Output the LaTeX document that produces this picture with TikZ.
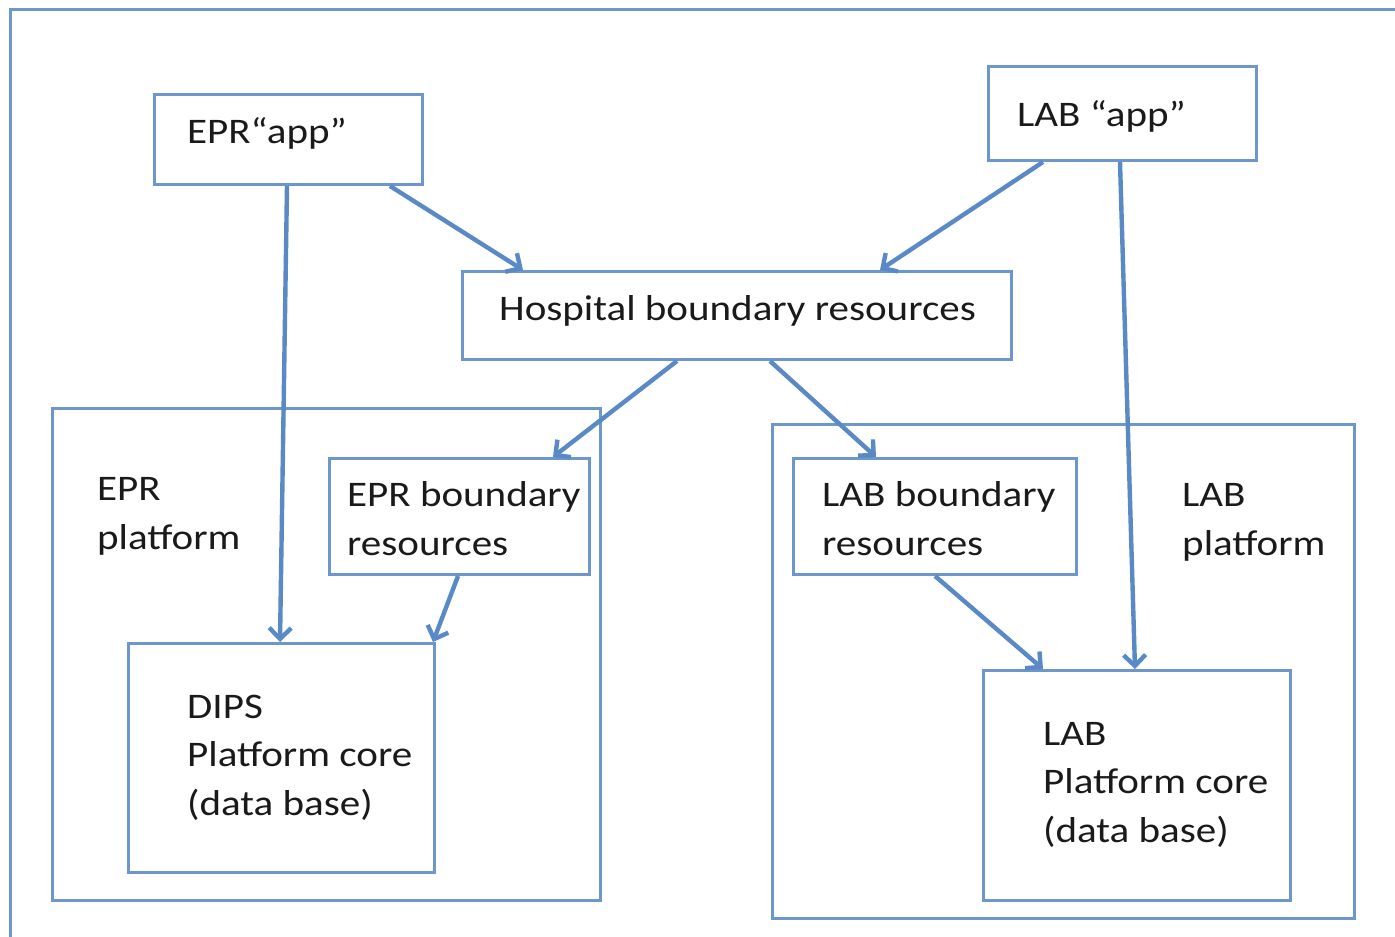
\documentclass[tikz,border=0pt]{standalone}
\usepackage{fontspec}
\setmainfont{Carlito}[FakeStretch=1.14]
\usetikzlibrary{arrows.meta,calc}
\definecolor{boxblue}{HTML}{6D96CC}
\definecolor{arrowblue}{HTML}{5A8AC6}
\definecolor{txt}{HTML}{1A1A1A}
\begin{document}
\begin{tikzpicture}[x=1pt,y=-1pt,
  box/.style={draw=boxblue,line width=3pt,fill=none,inner sep=0pt},
  lbl/.style={anchor=base west,inner sep=0pt,align=left,text=txt,
    font=\fontsize{36}{48.5}\selectfont},
  conn/.style={draw=arrowblue,line width=4.4pt,
    -{Straight Barb[length=11pt,width=22pt,line width=4.4pt]}}]
\useasboundingbox (0,0) rectangle (1395,937);
\fill[white] (0,0) rectangle (1395,937);
% outer frame
\draw[draw=boxblue,line width=3pt] (10,9) rectangle (1430,970);
% boxes
\node[box,minimum width=268pt,minimum height=90pt,anchor=north west] (eprapp) at (153,93) {};
\node[box,minimum width=268pt,minimum height=94pt,anchor=north west] (labapp) at (987,65) {};
\node[box,minimum width=549pt,minimum height=88pt,anchor=north west] (hosp) at (461,270) {};
\node[box,minimum width=548pt,minimum height=492pt,anchor=north west] (eprplat) at (51,407) {};
\node[box,minimum width=260pt,minimum height=116pt,anchor=north west] (eprbnd) at (328,457) {};
\node[box,minimum width=306pt,minimum height=229pt,anchor=north west] (dips) at (127,642) {};
\node[box,minimum width=582pt,minimum height=494pt,anchor=north west] (labplat) at (771,423) {};
\node[box,minimum width=283pt,minimum height=116pt,anchor=north west] (labbnd) at (792,457) {};
\node[box,minimum width=307pt,minimum height=230pt,anchor=north west] (labcore) at (982,669) {};
% texts (base anchor = baseline of the last line)
\node[lbl] (teprapp) at (187,143) {EPR“app”};
\node[lbl] (tlabapp) at (1017,126) {LAB “app”};
\node[lbl] (thosp) at (499,320) {Hospital boundary resources};
\node[lbl] (teprplat) at (97,549) {EPR\\platform};
\node[lbl] (teprbnd) at (347,555) {EPR boundary\\resources};
\node[lbl] (tdips) at (187,815) {DIPS\\Platform core\\(data base)};
\node[lbl] (tlabplat) at (1182,555) {LAB\\platform};
\node[lbl] (tlabbnd) at (822,555) {LAB boundary\\resources};
\node[lbl] (tlabcore) at (1043,842) {LAB\\Platform core\\(data base)};
% connectors
\draw[conn] ([xshift=134pt]eprapp.south west) -- ([xshift=153pt]dips.north west);
\draw[conn] ([xshift=237pt]eprapp.south west) -- ([xshift=62pt]hosp.north west);
\draw[conn] ([xshift=56pt]labapp.south west) -- ([xshift=419pt]hosp.north west);
\draw[conn] ([xshift=133pt]labapp.south west) -- ([xshift=153pt]labcore.north west);
\draw[conn] ([xshift=216pt]hosp.south west) -- ([xshift=225pt]eprbnd.north west);
\draw[conn] ([xshift=309pt]hosp.south west) -- ([xshift=84pt]labbnd.north west);
\draw[conn] ([xshift=130pt]eprbnd.south west) -- ([xshift=306pt]dips.north west);
\draw[conn] ([xshift=143pt]labbnd.south west) -- ([xshift=61pt]labcore.north west);
\end{tikzpicture}
\end{document}
